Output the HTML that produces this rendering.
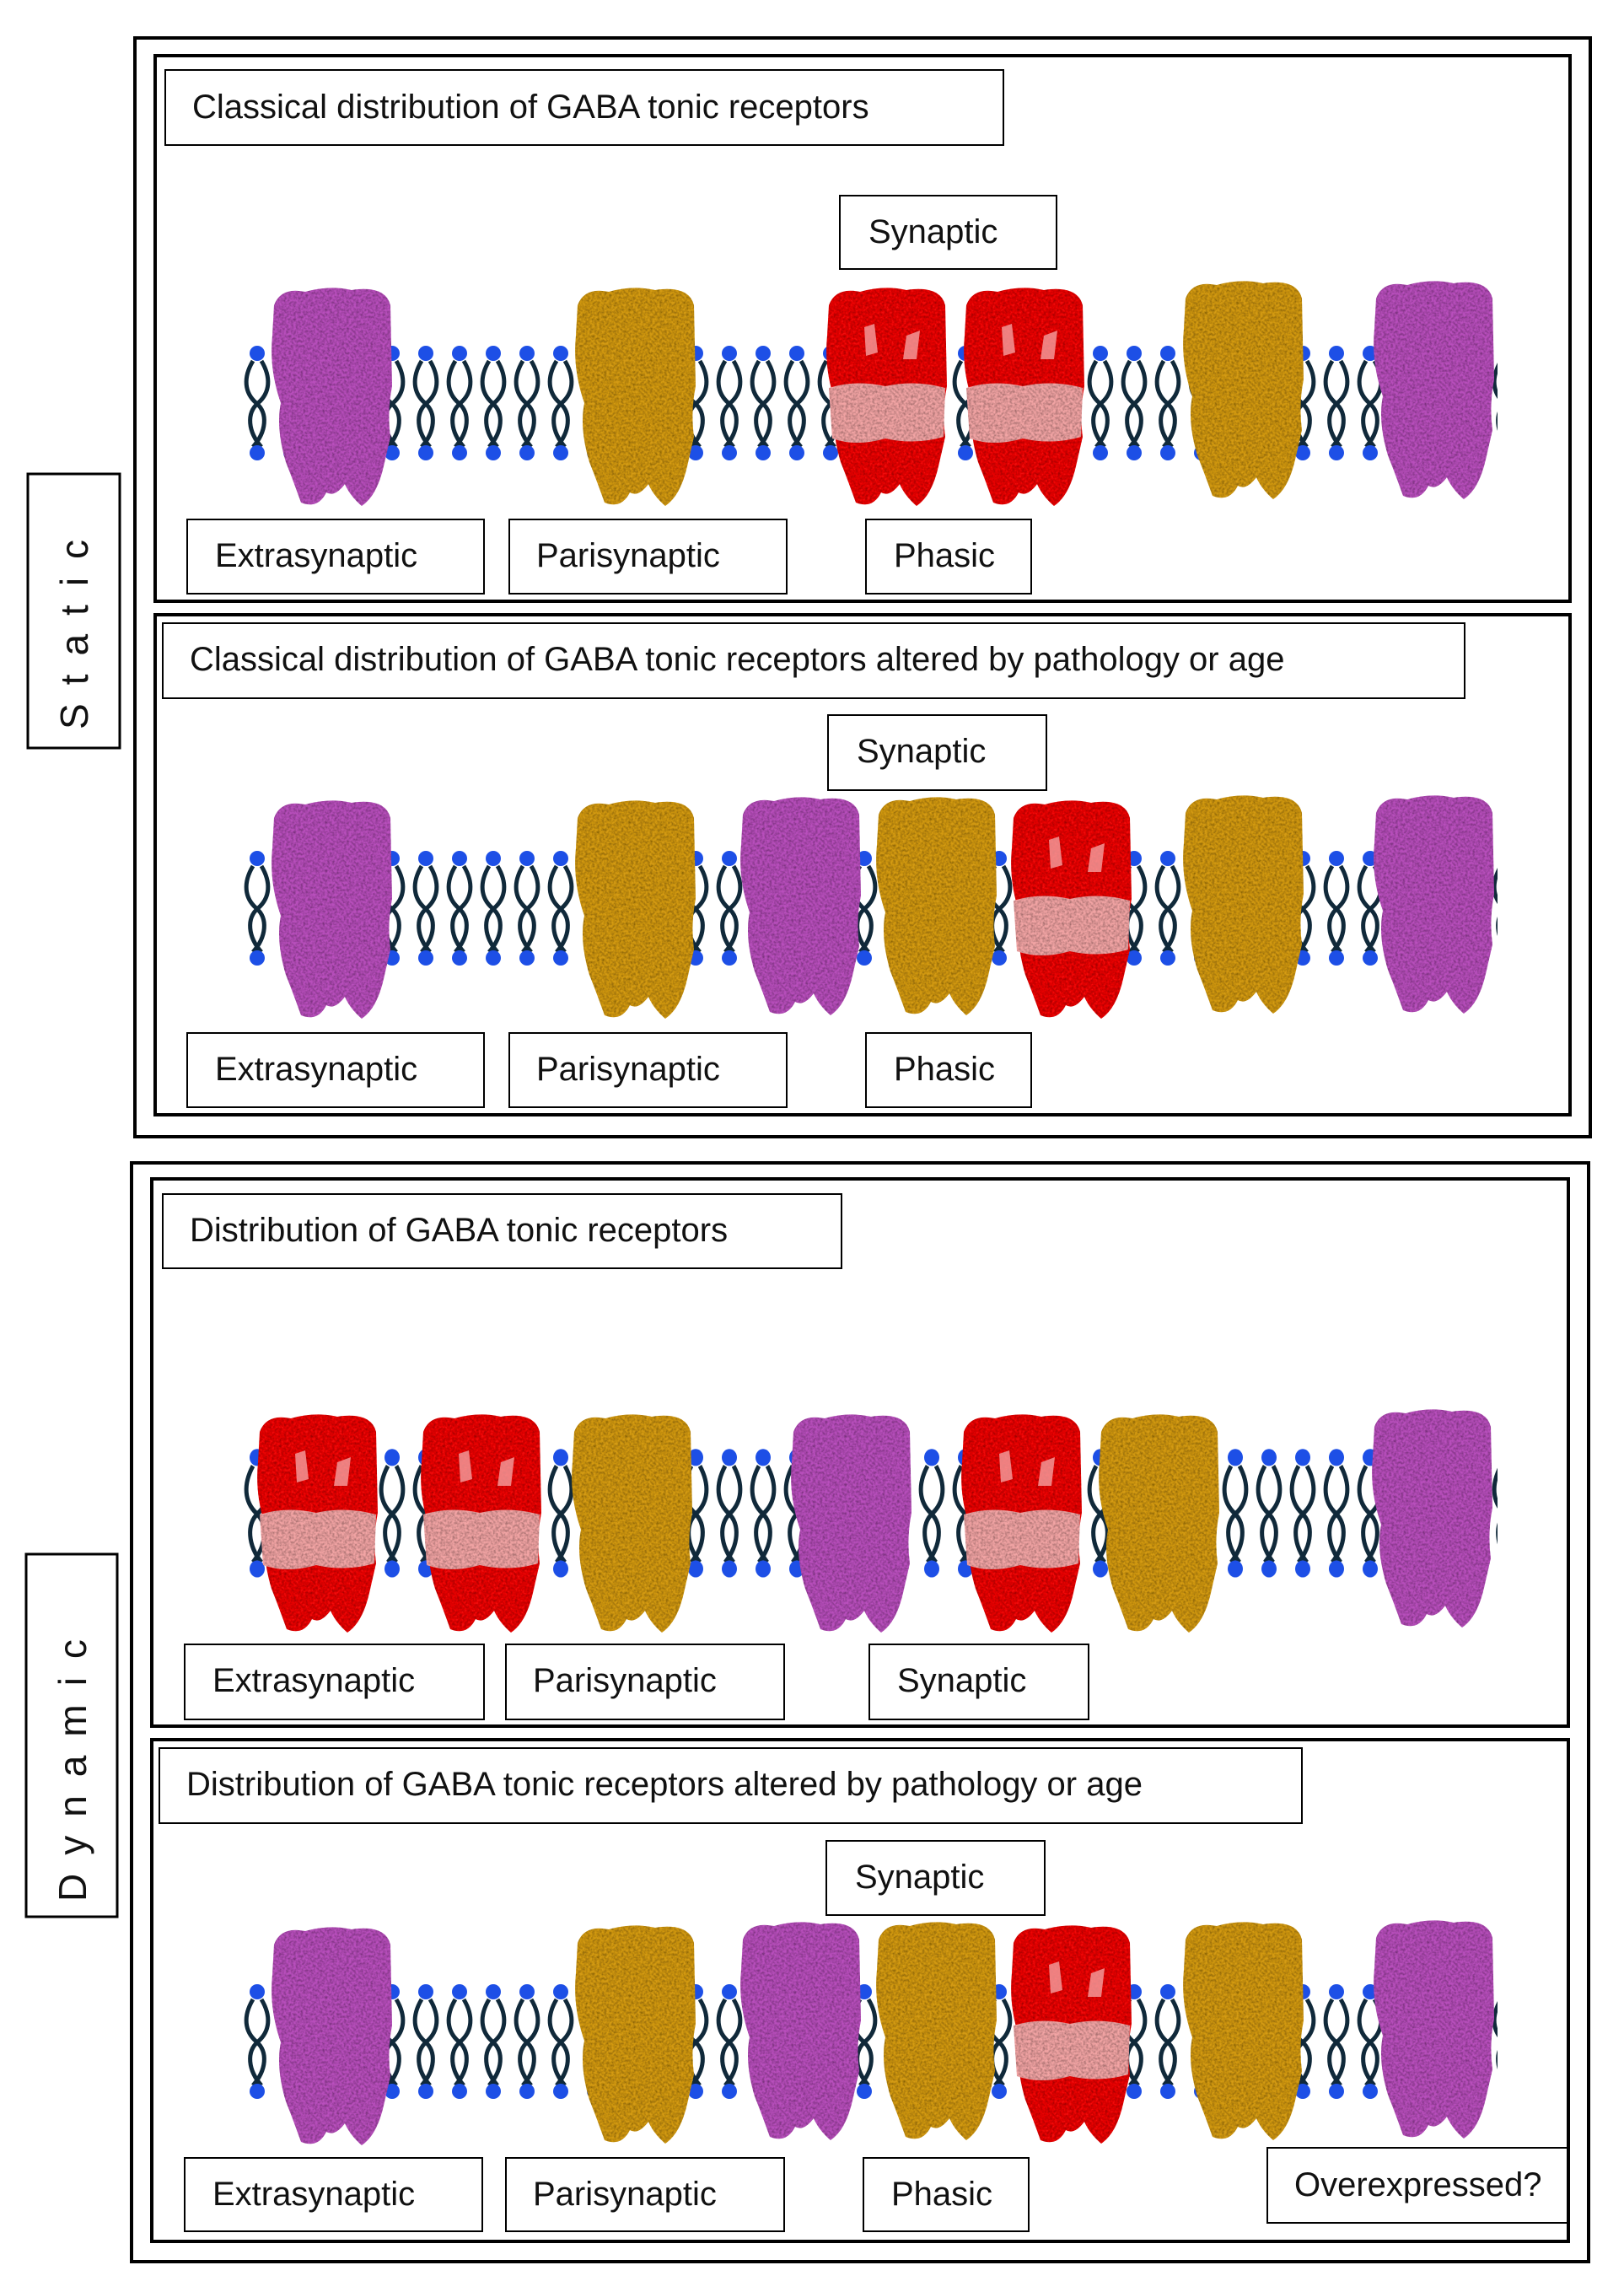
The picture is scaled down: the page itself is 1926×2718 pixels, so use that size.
<!DOCTYPE html>
<html><head><meta charset="utf-8"><style>
html,body{margin:0;padding:0;background:#fff;}
svg{display:block}
text{font-family:"Liberation Sans",sans-serif;fill:#111;}
</style></head><body>
<svg width="1926" height="2718" viewBox="0 0 1926 2718" xmlns="http://www.w3.org/2000/svg">
<defs>
<filter id="tex" x="0" y="0" width="1" height="1">
<feTurbulence type="fractalNoise" baseFrequency="0.35" numOctaves="2" seed="3" result="n"/>
<feColorMatrix in="n" type="matrix" values="0 0 0 0 0  0 0 0 0 0  0 0 0 0 0  0 0 0 -1.1 0.75" result="d"/>
<feComposite in="d" in2="SourceGraphic" operator="in" result="dd"/>
<feMerge><feMergeNode in="SourceGraphic"/><feMergeNode in="dd"/></feMerge>
</filter>
<pattern id="lip" x="0" y="0" width="40" height="140" patternUnits="userSpaceOnUse">
<path d="M14,20 C2,40 4,58 18,70 C32,82 30,104 14,122" fill="none" stroke="#10293a" stroke-width="5"/>
<path d="M24,20 C36,40 34,58 20,70 C6,82 8,104 24,122" fill="none" stroke="#10293a" stroke-width="5"/>
<circle cx="19" cy="11" r="9" fill="#1d4fe6"/>
<circle cx="19" cy="129" r="9" fill="#1d4fe6"/>
</pattern>
<path id="shape" d="M8,24 Q16,2 45,8 Q74,0 100,6 Q140,0 146,24 L148,120 Q142,150 146,180 L138,215 Q130,250 112,262 Q98,250 92,236 Q80,252 70,246 Q60,266 40,258 Q30,230 22,210 Q10,170 16,140 Q2,100 6,60 Z"/>
<g id="pur"><use href="#shape" fill="#b84fbc" filter="url(#tex)"/></g>
<g id="gold"><use href="#shape" fill="#d39a18" filter="url(#tex)"/></g>
<g id="red"><use href="#shape" fill="#ee1111" filter="url(#tex)"/>
<path d="M8,122 Q40,112 75,120 Q110,112 146,122 L144,180 Q110,190 75,182 Q40,192 12,182 Z" fill="#f2a4a4" filter="url(#tex)"/>
<path d="M50,50 L62,46 L66,80 L52,84 Z M100,60 L116,54 L112,88 L96,88 Z" fill="#f4a0a0" opacity="0.8"/></g>
</defs>

<g fill="none" stroke="#000">
<rect x="160" y="45" width="1726" height="1303" stroke-width="4"/>
<rect x="184" y="66" width="1678" height="647" stroke-width="4"/>
<rect x="184" y="729" width="1678" height="593" stroke-width="4"/>
<rect x="33" y="562" width="109" height="325" stroke-width="3"/>
<rect x="156" y="1379" width="1728" height="1303" stroke-width="4"/>
<rect x="180" y="1398" width="1680" height="649" stroke-width="4"/>
<rect x="180" y="2063" width="1680" height="595" stroke-width="4"/>
<rect x="31" y="1843" width="108" height="430" stroke-width="3"/>
<g stroke-width="2">
<rect x="196" y="83" width="994" height="89"/>
<rect x="996" y="232" width="257" height="87"/>
<rect x="222" y="616" width="352" height="88"/>
<rect x="604" y="616" width="329" height="88"/>
<rect x="1027" y="616" width="196" height="88"/>
<rect x="193" y="739" width="1544" height="89"/>
<rect x="982" y="848" width="259" height="89"/>
<rect x="222" y="1225" width="352" height="88"/>
<rect x="604" y="1225" width="329" height="88"/>
<rect x="1027" y="1225" width="196" height="88"/>
<rect x="193" y="1416" width="805" height="88"/>
<rect x="219" y="1950" width="355" height="89"/>
<rect x="600" y="1950" width="330" height="89"/>
<rect x="1031" y="1950" width="260" height="89"/>
<rect x="189" y="2073" width="1355" height="89"/>
<rect x="980" y="2183" width="259" height="88"/>
<rect x="219" y="2559" width="353" height="87"/>
<rect x="600" y="2559" width="330" height="87"/>
<rect x="1024" y="2559" width="196" height="87"/>
<rect x="1503" y="2547" width="357" height="89"/>
</g>
</g>

<g transform="translate(286,408)"><rect width="1490" height="140" fill="url(#lip)"/></g>
<g transform="translate(286,1007)"><rect width="1490" height="140" fill="url(#lip)"/></g>
<g transform="translate(286,1716) scale(1,1.12)"><rect width="1490" height="140" fill="url(#lip)"/></g>
<g transform="translate(286,2351)"><rect width="1490" height="140" fill="url(#lip)"/></g>

<use href="#pur" x="317" y="338"/>
<use href="#gold" x="677" y="338"/>
<use href="#red" x="975" y="338"/>
<use href="#red" x="1138" y="338"/>
<use href="#gold" x="1398" y="330"/>
<use href="#pur" x="1624" y="330"/>

<use href="#pur" x="317" y="946"/>
<use href="#gold" x="677" y="946"/>
<use href="#pur" x="873" y="942"/>
<use href="#gold" x="1034" y="942"/>
<use href="#red" x="1194" y="946"/>
<use href="#gold" x="1398" y="940"/>
<use href="#pur" x="1624" y="940"/>

<use href="#red" x="300" y="1674"/>
<use href="#red" x="494" y="1674"/>
<use href="#gold" x="673" y="1674"/>
<use href="#pur" x="933" y="1674"/>
<use href="#red" x="1135" y="1674"/>
<use href="#gold" x="1298" y="1674"/>
<use href="#pur" x="1622" y="1668"/>

<use href="#pur" x="317" y="2282"/>
<use href="#gold" x="677" y="2280"/>
<use href="#pur" x="873" y="2276"/>
<use href="#gold" x="1034" y="2276"/>
<use href="#red" x="1194" y="2280"/>
<use href="#gold" x="1398" y="2276"/>
<use href="#pur" x="1624" y="2274"/>

<g font-size="40">
<text x="228" y="140">Classical distribution of GABA tonic receptors</text>
<text x="1030" y="288">Synaptic</text>
<text x="255" y="672">Extrasynaptic</text>
<text x="636" y="672">Parisynaptic</text>
<text x="1060" y="672">Phasic</text>
<text x="225" y="795">Classical distribution of GABA tonic receptors altered by pathology or age</text>
<text x="1016" y="904">Synaptic</text>
<text x="255" y="1281">Extrasynaptic</text>
<text x="636" y="1281">Parisynaptic</text>
<text x="1060" y="1281">Phasic</text>
<text x="225" y="1472">Distribution of GABA tonic receptors</text>
<text x="252" y="2006">Extrasynaptic</text>
<text x="632" y="2006">Parisynaptic</text>
<text x="1064" y="2006">Synaptic</text>
<text x="221" y="2129">Distribution of GABA tonic receptors altered by pathology or age</text>
<text x="1014" y="2239">Synaptic</text>
<text x="252" y="2615">Extrasynaptic</text>
<text x="632" y="2615">Parisynaptic</text>
<text x="1057" y="2615">Phasic</text>
<text x="1535" y="2604">Overexpressed?</text>
</g>
<text font-size="46" letter-spacing="22" transform="translate(104,865) rotate(-90)">Static</text>
<text font-size="46" letter-spacing="22" transform="translate(102,2255) rotate(-90)">Dynamic</text>
</svg>
</body></html>
